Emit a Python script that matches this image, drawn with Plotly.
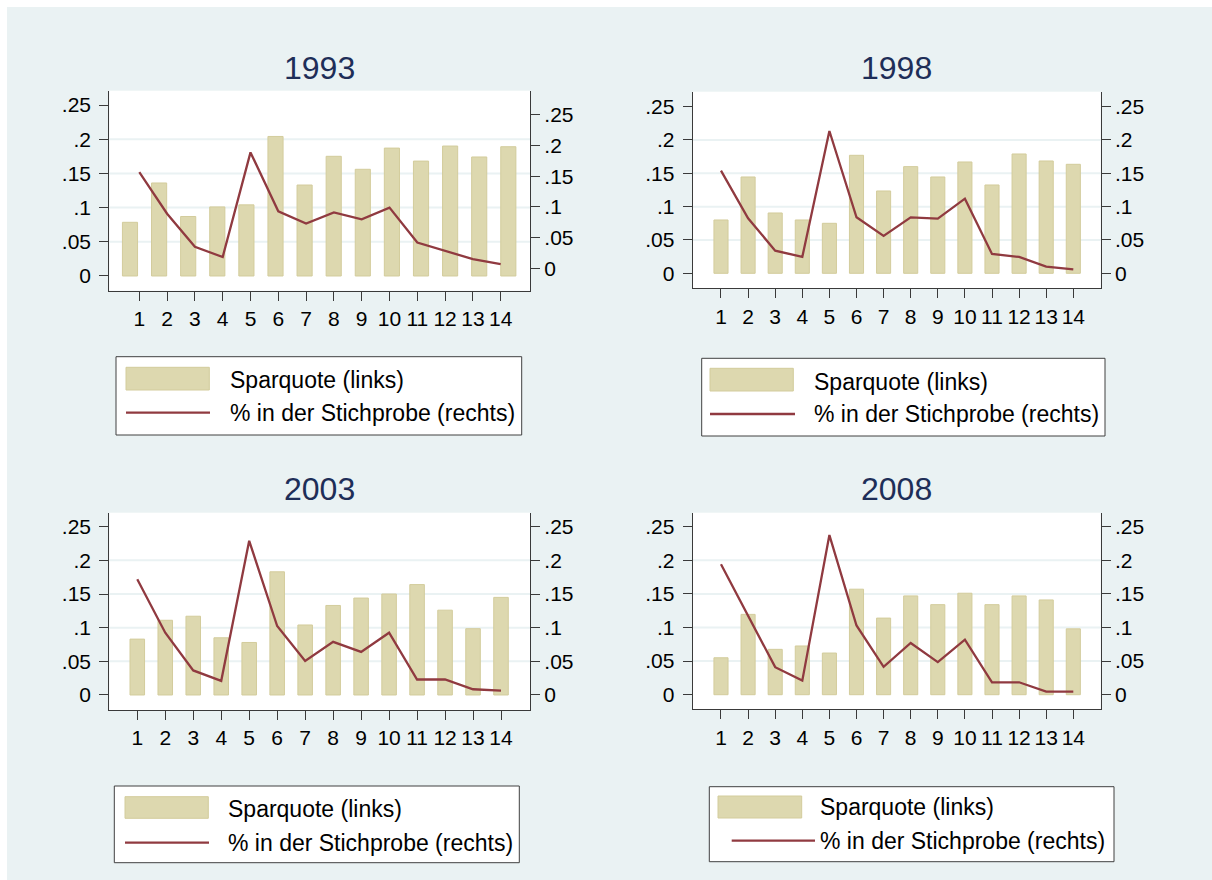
import plotly.graph_objects as go

W, H = 1212, 880

# Data
gruppen = list(range(1, 15))
jahre = ['1993', '1998', '2003', '2008']

spar_1993 = [0.0785, 0.136, 0.087, 0.101, 0.104, 0.204, 0.133, 0.175, 0.156, 0.187, 0.168, 0.190, 0.174, 0.189]
anteil_1993 = [0.157, 0.089, 0.035, 0.0185, 0.189, 0.093, 0.073, 0.091, 0.080, 0.099, 0.042, 0.028, 0.015, 0.007]

spar_1998 = [0.080, 0.1445, 0.0905, 0.080, 0.075, 0.177, 0.1235, 0.160, 0.1445, 0.167, 0.1325, 0.179, 0.1685, 0.1635]
anteil_1998 = [0.154, 0.0825, 0.034, 0.0245, 0.2135, 0.084, 0.056, 0.084, 0.082, 0.112, 0.029, 0.0245, 0.010, 0.006]

spar_2003 = [0.083, 0.111, 0.117, 0.085, 0.078, 0.183, 0.104, 0.133, 0.144, 0.150, 0.164, 0.126, 0.0985, 0.145]
anteil_2003 = [0.172, 0.0925, 0.0365, 0.021, 0.229, 0.1025, 0.0505, 0.079, 0.064, 0.0925, 0.023, 0.023, 0.0085, 0.0065]

spar_2008 = [0.055, 0.1195, 0.0675, 0.0725, 0.062, 0.157, 0.114, 0.147, 0.134, 0.151, 0.134, 0.147, 0.141, 0.098]
anteil_2008 = [0.194, 0.1175, 0.041, 0.021, 0.2375, 0.103, 0.0415, 0.077, 0.0485, 0.082, 0.0185, 0.0185, 0.0045, 0.0045]

ytick_vals = [0, 0.05, 0.1, 0.15, 0.2, 0.25]
ytick_text = ['0', '.05', '.1', '.15', '.2', '.25']
grid_vals = [0.05, 0.1, 0.15, 0.2]

spar = [spar_1993, spar_1998, spar_2003, spar_2008]
anteil = [anteil_1993, anteil_1998, anteil_2003, anteil_2008]

# panel geometry in pixels: plot box, axis ranges (line x, bar x, left y, right y)
panels = [
    dict(box=(109.3, 90.7, 530.0, 290.7), xr=(-0.079, 15.054), xbr=(0.289, 14.745),
         yl=(-0.0215, 0.2709), yr=(-0.0365, 0.2896), title_y=68,
         leg=(116, 356.7, 521.7, 435), key=(126, 367.3, 209.3, 390), txt_x=227.7, row1=379.5, row2=412.7,
         line_key=(126, 210)),
    dict(box=(692.7, 91.7, 1100.7, 288.3), xr=(-0.044, 15.011), xbr=(-0.044, 15.011),
         yl=(-0.0225, 0.2724), yr=(-0.0225, 0.2724), title_y=68,
         leg=(701.7, 358.3, 1105, 436), key=(710, 368.3, 793.3, 391), txt_x=811.7, row1=381.7, row2=414,
         line_key=(710, 795)),
    dict(box=(109.3, 512.7, 530.0, 710.0), xr=(0.0, 15.036), xbr=(0.0, 15.036),
         yl=(-0.0223, 0.2708), yr=(-0.0223, 0.2708), title_y=489,
         leg=(114.3, 786, 519.3, 862.7), key=(125, 796.7, 208.3, 818.3), txt_x=226, row1=809.3, row2=842.7,
         line_key=(125, 209)),
    dict(box=(692.7, 512.7, 1100.7, 709.3), xr=(-0.044, 15.011), xbr=(-0.044, 15.011),
         yl=(-0.0217, 0.2708), yr=(-0.0217, 0.2708), title_y=489,
         leg=(709.3, 786.7, 1114, 861.7), key=(718, 796, 801.7, 818), txt_x=817.7, row1=807.3, row2=840.7,
         line_key=(731.7, 815)),
]

bar_col = '#DDD8AF'
bar_edge = '#D3CC9C'
line_col = '#903A40'
axis_col = '#3A3A3A'
bg_col = '#EAF2F3'
FONT = 'Liberation Sans, Arial, sans-serif'

def px(x):
    return x / W

def py(y):
    return 1 - y / H

def ref(letter, n):
    # plotly names the first axis 'x'/'y', not 'x1'/'y1'
    return letter if n == 1 else '%s%d' % (letter, n)

fig = go.Figure()
layout = {}
shapes = []
annotations = []

for i, p in enumerate(panels):
    # main subplot (xa, ya) holds the bars, overlay (xb, yb) holds the line
    xa, xb = 2 * i + 1, 2 * i + 2
    ya, yb = 2 * i + 1, 2 * i + 2
    x0, y0, x1, y1 = p['box']
    xdom = [px(x0), px(x1)]
    ydom = [py(y1), py(y0)]

    fig.add_trace(go.Bar(
        x=gruppen, y=spar[i], width=0.52,
        marker=dict(color=bar_col, line=dict(color=bar_edge, width=1)),
        xaxis=ref('x', xa), yaxis=ref('y', ya), showlegend=False
    ))
    fig.add_trace(go.Scatter(
        x=gruppen, y=anteil[i], mode='lines',
        line=dict(color=line_col, width=2.3),
        xaxis=ref('x', xb), yaxis=ref('y', yb), showlegend=False
    ))

    layout['xaxis%d' % xa] = dict(
        domain=xdom, anchor=ref('y', ya), range=list(p['xbr']),
        showticklabels=False, ticks='', showline=False, showgrid=False, zeroline=False
    )
    layout['xaxis%d' % xb] = dict(
        domain=xdom, anchor=ref('y', ya), overlaying=ref('x', xa), range=list(p['xr']),
        tickvals=gruppen, ticks='outside', ticklen=9, tickcolor=axis_col, tickwidth=1,
        showline=True, linecolor=axis_col, linewidth=1.2, showgrid=False, zeroline=False,
        tickfont=dict(size=21, color='black', family=FONT)
    )
    layout['yaxis%d' % ya] = dict(
        domain=ydom, anchor=ref('x', xa), range=list(p['yl']),
        tickvals=ytick_vals, ticktext=ytick_text, ticks='outside', ticklen=9,
        tickcolor=axis_col, tickwidth=1, showline=True, linecolor=axis_col, linewidth=1.2,
        showgrid=False, zeroline=False, tickfont=dict(size=21, color='black', family=FONT),
        ticklabelstandoff=4
    )
    layout['yaxis%d' % yb] = dict(
        domain=ydom, anchor=ref('x', xa), overlaying=ref('y', ya), side='right', range=list(p['yr']),
        tickvals=ytick_vals, ticktext=ytick_text, ticks='outside', ticklen=9,
        tickcolor=axis_col, tickwidth=1, showline=True, linecolor=axis_col, linewidth=1.2,
        showgrid=False, zeroline=False, tickfont=dict(size=21, color='black', family=FONT)
    )

    # grid lines at the inner left-axis ticks
    for g in grid_vals:
        shapes.append(dict(type='line', xref=ref('x', xa) + ' domain', yref=ref('y', ya),
                           x0=0, x1=1, y0=g, y1=g, layer='below',
                           line=dict(color=bg_col, width=2)))

    annotations.append(dict(text=jahre[i], xref='paper', yref='paper',
                            x=px((x0 + x1) / 2), y=py(p['title_y']), xanchor='center', yanchor='middle',
                            showarrow=False, font=dict(size=32, color='#1E2E58', family=FONT)))

    # legend box
    lx0, ly0, lx1, ly1 = p['leg']
    shapes.append(dict(type='rect', xref='paper', yref='paper',
                       x0=px(lx0), x1=px(lx1), y0=py(ly1), y1=py(ly0),
                       fillcolor='white', line=dict(color='#404040', width=1)))
    kx0, ky0, kx1, ky1 = p['key']
    shapes.append(dict(type='rect', xref='paper', yref='paper',
                       x0=px(kx0), x1=px(kx1), y0=py(ky1), y1=py(ky0),
                       fillcolor=bar_col, line=dict(color=bar_edge, width=1)))
    shapes.append(dict(type='line', xref='paper', yref='paper',
                       x0=px(p['line_key'][0]), x1=px(p['line_key'][1]),
                       y0=py(p['row2']), y1=py(p['row2']),
                       line=dict(color=line_col, width=2.3)))
    for txt, ry in [('Sparquote (links)', p['row1']), ('% in der Stichprobe (rechts)', p['row2'])]:
        annotations.append(dict(text=txt, xref='paper', yref='paper',
                                x=px(p['txt_x']), y=py(ry), xanchor='left', yanchor='middle',
                                showarrow=False, font=dict(size=23, color='black', family=FONT)))

# white margin at top and left edge
shapes.append(dict(type='rect', xref='paper', yref='paper', x0=0, x1=1, y0=py(7), y1=1,
                   fillcolor='white', line=dict(width=0)))
shapes.append(dict(type='rect', xref='paper', yref='paper', x0=0, x1=px(7), y0=0, y1=1,
                   fillcolor='white', line=dict(width=0)))

fig.update_layout(
    width=W, height=H,
    margin=dict(l=0, r=0, t=0, b=0),
    paper_bgcolor=bg_col,
    plot_bgcolor='white',
    showlegend=False,
    shapes=shapes,
    annotations=annotations,
    font=dict(family=FONT),
    **layout
)

fig.write_html("out.html", config={'displayModeBar': False},
               post_script="document.body.style.margin='0';document.body.style.overflow='hidden';")
